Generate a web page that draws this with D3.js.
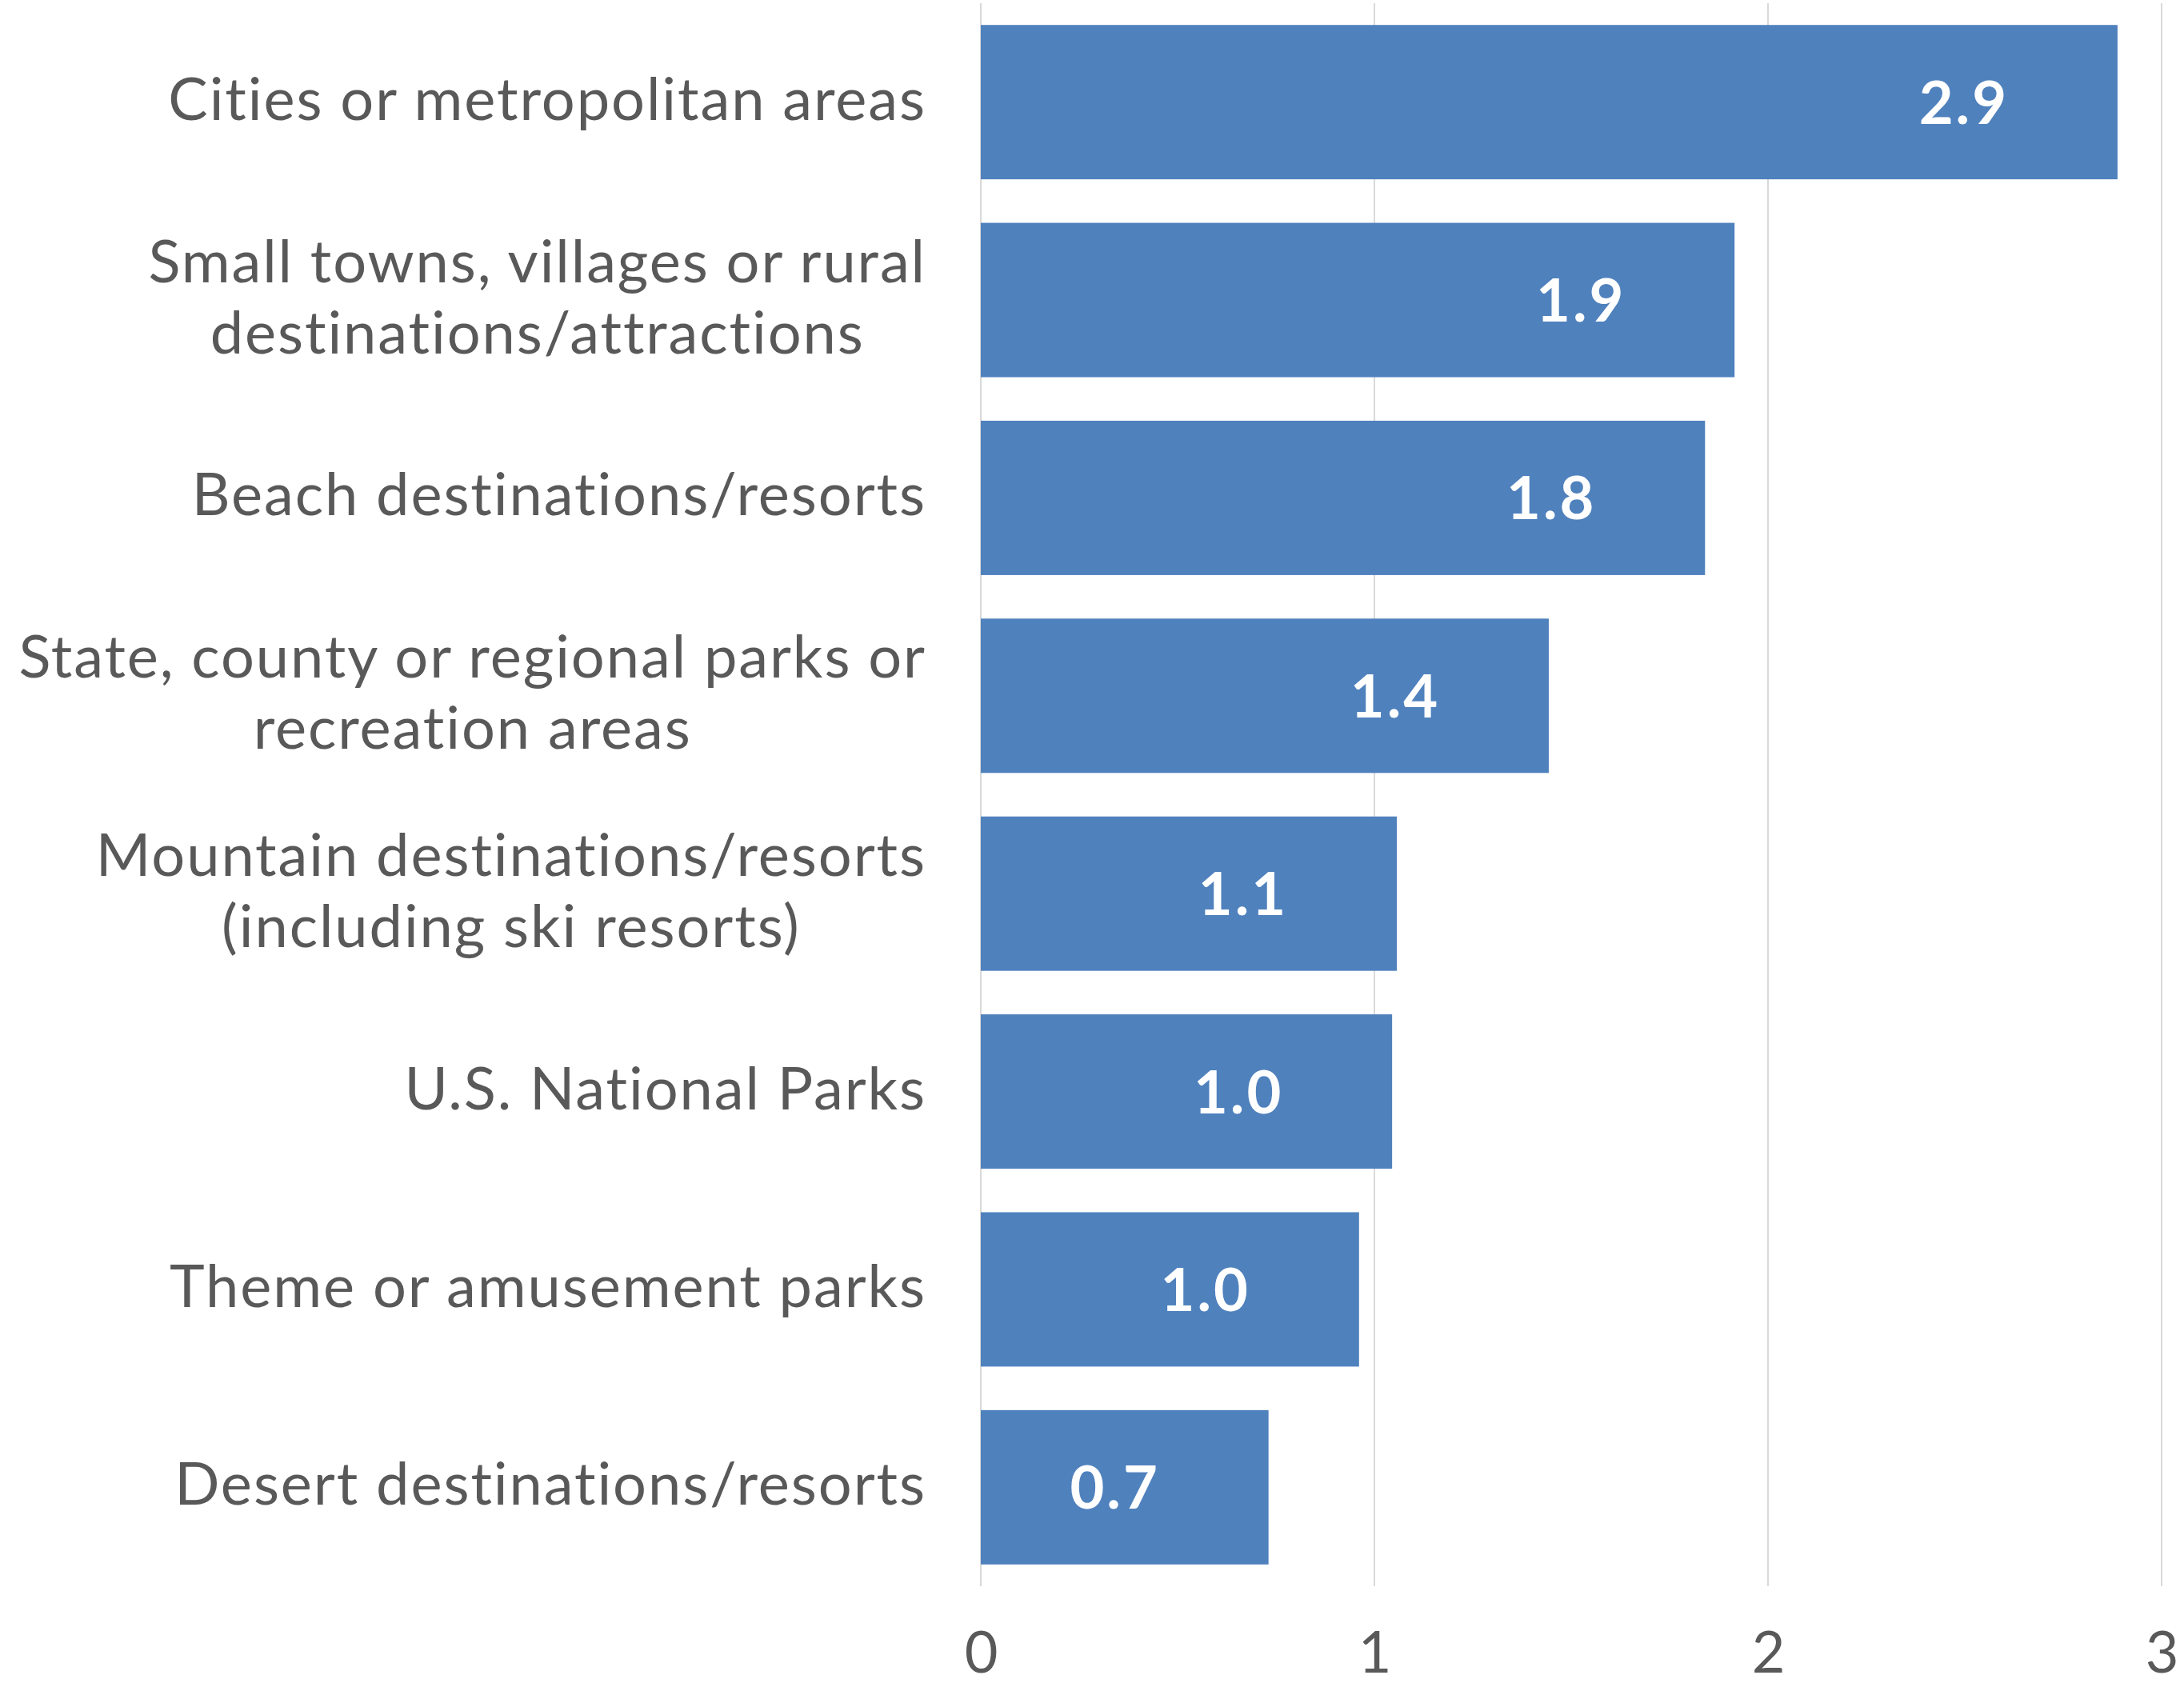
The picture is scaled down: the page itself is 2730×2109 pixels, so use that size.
<!DOCTYPE html>
<html>
<head>
<meta charset="utf-8">
<script src="https://cdn.jsdelivr.net/npm/d3@7"></script>
<style>
  html, body { margin: 0; padding: 0; background: #ffffff; }
  svg { display: block; }
</style>
</head>
<body>
<svg id="chart" width="2730" height="2109"></svg>
<script>
// Destination types (line breaks mark wrapped category labels)
const categories = [
  "Cities or metropolitan areas",
  "Small towns, villages or rural\ndestinations/attractions",
  "Beach destinations/resorts",
  "State, county or regional parks or\nrecreation areas",
  "Mountain destinations/resorts\n(including ski resorts)",
  "U.S. National Parks",
  "Theme or amusement parks",
  "Desert destinations/resorts"
];

// Average value per destination type
const values = [2.888, 1.915, 1.84, 1.443, 1.057, 1.045, 0.961, 0.731];

// Value axis ticks
const xTicks = [0, 1, 2, 3];

const W = 2730, H = 2109;
const plot = { left: 1226, right: 2702, top: 4, bottom: 1983 };
const FONT = "Lato, 'Open Sans', sans-serif";
const TEXT_GREY = "#595959";
const BAR_BLUE = "#4f81bd";
const GRID_GREY = "#d9d9d9";

const svg = d3.select("#chart");
svg.append("rect").attr("width", W).attr("height", H).attr("fill", "#ffffff");

const x = d3.scaleLinear().domain([0, 3]).range([plot.left, plot.right]);
const y = d3.scaleBand()
  .domain(categories)
  .range([plot.top, plot.bottom])
  .paddingInner(0.22)
  .paddingOuter(0.11);

const data = categories.map((c, i) => ({ cat: c, value: values[i] }));

// Vertical gridlines
svg.append("g")
  .selectAll("line")
  .data(xTicks)
  .join("line")
  .attr("x1", d => x(d)).attr("x2", d => x(d))
  .attr("y1", plot.top).attr("y2", plot.bottom)
  .attr("stroke", GRID_GREY)
  .attr("stroke-width", 2);

// Bars
svg.append("g")
  .selectAll("rect")
  .data(data)
  .join("rect")
  .attr("x", x(0))
  .attr("y", d => y(d.cat))
  .attr("width", d => x(d.value) - x(0))
  .attr("height", y.bandwidth())
  .attr("fill", BAR_BLUE);

// Value labels inside the bars
const fmt = v => v.toFixed(1);
svg.append("g")
  .selectAll("text")
  .data(data)
  .join("text")
  .attr("x", d => x(d.value) - 192)
  .attr("y", d => y(d.cat) + y.bandwidth() / 2 + 27)
  .attr("text-anchor", "middle")
  .attr("font-family", FONT)
  .attr("font-weight", "bold")
  .attr("font-size", 74)
  .attr("letter-spacing", 3)
  .attr("fill", "#ffffff")
  .text(d => fmt(d.value));

// Bottom axis with tick labels only
const axis = svg.append("g")
  .attr("transform", `translate(0,${plot.bottom})`)
  .call(d3.axisBottom(x).tickValues(xTicks).tickSize(0).tickFormat(d3.format("d")));
axis.select(".domain").remove();
axis.selectAll("text")
  .attr("y", 108)
  .attr("dy", null)
  .attr("font-family", FONT)
  .attr("font-size", 72)
  .attr("fill", TEXT_GREY);

// Category labels: right-aligned block, lines centred within the block
const labelFont = 74;
const labelRight = 1158;
const lineGap = 89;

// widen the stand-in face so the label lengths follow the original layout
const probe = svg.append("text")
  .attr("font-family", FONT).attr("font-size", labelFont)
  .text("Cities or metropolitan areas");
const natural = probe.node().getComputedTextLength();
probe.remove();
const targetWidth = 949;
const spacing = (targetWidth - natural) / "Cities or metropolitan areas".length;

const labels = svg.append("g");
data.forEach(d => {
  const lines = d.cat.split("\n");
  const cy = y(d.cat) + y.bandwidth() / 2;
  const g = labels.append("g");
  const texts = lines.map((ln, i) => g.append("text")
    .attr("font-family", FONT)
    .attr("font-size", labelFont)
    .attr("letter-spacing", spacing)
    .attr("fill", TEXT_GREY)
    .attr("text-anchor", "middle")
    .attr("y", cy + 22 + (i - (lines.length - 1) / 2) * lineGap)
    .text(ln));
  const widths = texts.map(t => t.node().getComputedTextLength());
  const blockW = d3.max(widths);
  texts.forEach(t => t.attr("x", labelRight - blockW / 2));
});
</script>
</body>
</html>
